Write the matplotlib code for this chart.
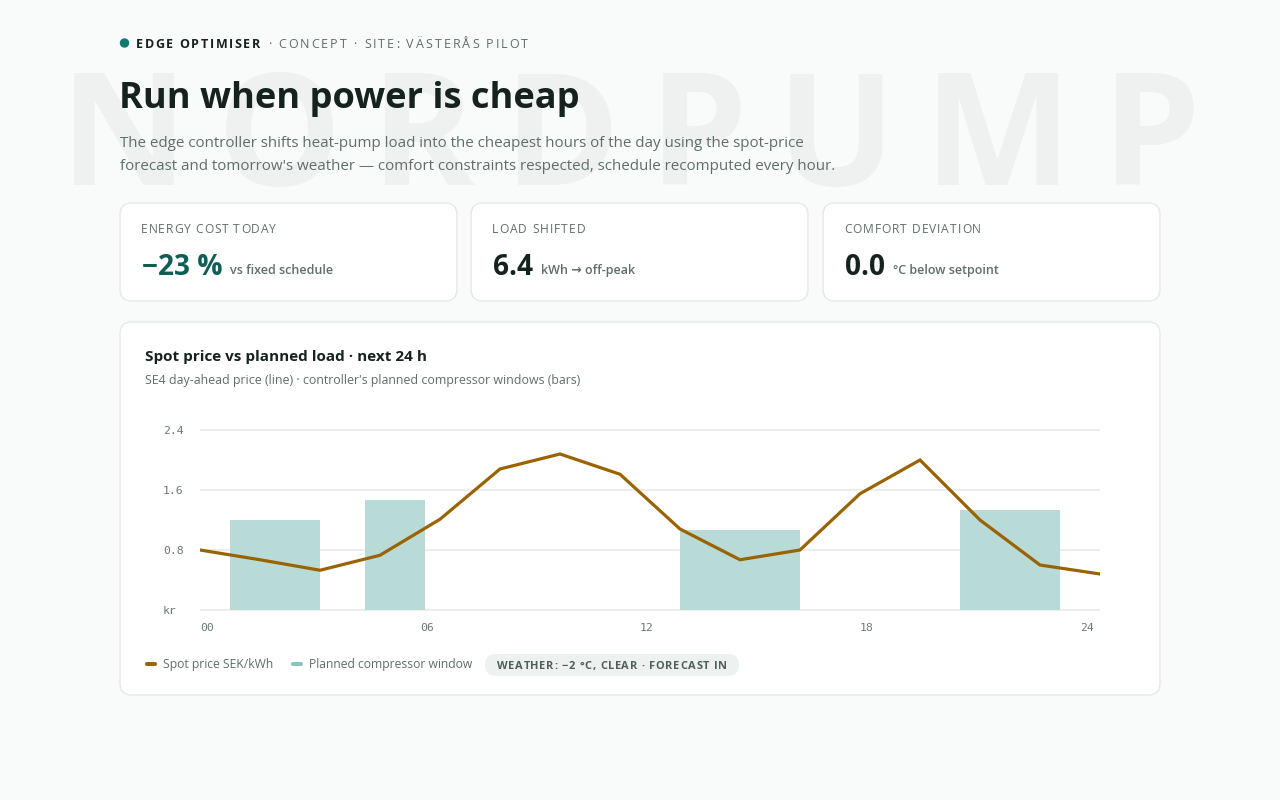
import matplotlib
matplotlib.use("Agg")
import matplotlib.pyplot as plt
from matplotlib.patches import FancyBboxPatch
from matplotlib.font_manager import FontProperties

# ---- data ----
hours = [0, 1.6, 3.2, 4.8, 6.4, 8.0, 9.6, 11.2, 12.8, 14.4, 16.0, 17.6, 19.2, 20.8, 22.4, 24.0]
price = [0.80, 0.67, 0.53, 0.73, 1.21, 1.88, 2.08, 1.81, 1.08, 0.67, 0.80, 1.55, 2.00, 1.20, 0.60, 0.48]

win_start = [0.8, 4.4, 12.8, 20.27]
win_len = [2.4, 1.6, 3.2, 2.67]
win_load = [1.20, 1.47, 1.07, 1.33]

xtick_hours = [0, 6, 12, 18, 24]
xtick_labels = ["00", "06", "12", "18", "24"]
ytick_vals = [0, 0.8, 1.6, 2.4]
ytick_labels = ["kr", "0.8", "1.6", "2.4"]

card_labels = ["ENERGY COST TODAY", "LOAD SHIFTED", "COMFORT DEVIATION"]
card_values = ["\u221223 %", "6.4", "0.0"]
card_units = ["vs fixed schedule", "kWh \u2192 off-peak", "\u00b0C below setpoint"]

# ---- style ----
BG = "#f9fbfa"
DARK = "#16221e"
GREY = "#5f6e69"
TEAL = "#117a6e"
TEAL_DARK = "#0f5e55"
BROWN = "#9a6300"
BAR = "#b9dbd8"
GRID = "#eceeed"
TICK = "#6b7975"
SANS = ["Open Sans", "DejaVu Sans"]
MONO = ["DejaVu Sans Mono"]

fig = plt.figure(figsize=(12.8, 8), dpi=100, facecolor=BG)
renderer = fig.canvas.get_renderer()
bg = fig.add_axes([0, 0, 1, 1])
bg.set_xlim(0, 1280)
bg.set_ylim(800, 0)
bg.axis("off")
bg.set_facecolor(BG)

PT = 72 / 100  # px -> pt


def text_w(s, size, weight="normal", family=SANS):
    prop = FontProperties(family=family, size=size, weight=weight)
    w1 = renderer.get_text_width_height_descent("|" + s + "|", prop, ismath=False)[0]
    w0 = renderer.get_text_width_height_descent("||", prop, ismath=False)[0]
    return w1 - w0


def fit(s, target, weight="normal", family=SANS):
    return 10 * target / text_w(s, 10, weight, family)


def spaced(x, y, s, target, size, weight="normal", color=GREY, family=SANS, z=2):
    track = (target - text_w(s, size, weight, family)) / (len(s) - 1)
    for i, ch in enumerate(s):
        if ch == " ":
            continue
        xi = x + text_w(s[:i], size, weight, family) + i * track
        bg.text(xi, y, ch, fontsize=size, fontweight=weight, color=color,
                family=family, va="baseline", ha="left", zorder=z)


def card(x0, y0, x1, y1, r=12):
    bg.add_patch(FancyBboxPatch((x0, y0), x1 - x0, y1 - y0,
                                boxstyle=f"round,pad=0,rounding_size={r}",
                                fc="white", ec="#e4e9e7", lw=1.0, zorder=3))


# watermark
spaced(60, 185, "NORDPUMP", 1140, 113, weight="bold", color="#eff1f0", z=1)

# header
bg.add_patch(plt.Circle((124.5, 43), 4, color=TEAL, zorder=2))
spaced(136, 47.5, "EDGE OPTIMISER", 124, 12.5 * PT, weight="bold", color=DARK)
spaced(268, 47.5, "\u00b7 CONCEPT \u00b7 SITE: V\u00c4STER\u00c5S PILOT", 260, 12.5 * PT, color=GREY)

title = "Run when power is cheap"
bg.text(119, 108, title, fontsize=fit(title, 461, "bold"), fontweight="bold",
        color=DARK, family=SANS, va="baseline", zorder=2)
sub1 = "The edge controller shifts heat-pump load into the cheapest hours of the day using the spot-price"
sub2 = "forecast and tomorrow's weather \u2014 comfort constraints respected, schedule recomputed every hour."
s_sub = (fit(sub1, 691) + fit(sub2, 712)) / 2
bg.text(120, 147, sub1, fontsize=s_sub, color=GREY, family=SANS, va="baseline", zorder=2)
bg.text(120, 170, sub2, fontsize=s_sub, color=GREY, family=SANS, va="baseline", zorder=2)

# KPI cards
card_x = [(120, 457), (471, 808), (823, 1160)]
label_w = [135, 93, 137]
unit_gap = 8
vsize = 28 * PT
for i, (x0, x1) in enumerate(card_x):
    card(x0, 203, x1, 301)
    spaced(x0 + 21, 233, card_labels[i], label_w[i], 12 * PT, color=GREY, z=4)
    bg.text(x0 + 22, 275, card_values[i], fontsize=vsize, fontweight="bold",
            color=TEAL_DARK if i == 0 else DARK, family=SANS, va="baseline", zorder=4)
    vw = text_w(card_values[i], vsize, "bold")
    bg.text(x0 + 22 + vw + unit_gap, 274, card_units[i], fontsize=12.5 * PT, fontweight="semibold",
            color=GREY, family=SANS, va="baseline", zorder=4)

# chart card
card(120, 322, 1160, 695)
ctitle = "Spot price vs planned load \u00b7 next 24 h"
bg.text(145, 361, ctitle, fontsize=fit(ctitle, 283, "bold"), fontweight="bold",
        color=DARK, family=SANS, va="baseline", zorder=4)
csub = "SE4 day-ahead price (line) \u00b7 controller's planned compressor windows (bars)"
bg.text(145, 384, csub, fontsize=fit(csub, 432), color=GREY, family=SANS,
        va="baseline", zorder=4)

# chart axes: x 0..24 -> 200..1100 px, y 0..2.4 -> 610..430 px
y_lo, y_hi = -0.04, 2.44
ppu = 75.0
top_px = 430 - (y_hi - 2.4) * ppu
bot_px = 610 + (0 - y_lo) * ppu
ax = fig.add_axes([200 / 1280, (800 - bot_px) / 800, 900 / 1280, (bot_px - top_px) / 800])
ax.set_zorder(5)
ax.patch.set_alpha(0)
ax.set_xlim(0, 24)
ax.set_ylim(y_lo, y_hi)
for sp in ax.spines.values():
    sp.set_visible(False)
for v in ytick_vals:
    ax.axhline(v, color=GRID, lw=1.4, zorder=0)
ax.bar(win_start, win_load, width=win_len, align="edge", color=BAR, zorder=1)
ax.plot(hours, price, color=BROWN, lw=2.3, solid_joinstyle="miter", zorder=2)

# the reference's hour labels sit on an 880 px scale inside the 900 px plot
tick_pos = [h * 880 / 900 for h in xtick_hours]
ax.set_xticks(tick_pos)
ax.set_xticklabels(xtick_labels, family=MONO, fontsize=11.5 * PT, color=TICK, ha="left")
ax.set_yticks(ytick_vals)
ax.set_yticklabels(ytick_labels, family=MONO, fontsize=11.5 * PT, color=TICK, ha="left")
ax.tick_params(length=0)
ax.tick_params(axis="x", pad=7)
ax.tick_params(axis="y", pad=37 * PT)

# legend
bg.add_patch(FancyBboxPatch((145, 662), 12, 4, boxstyle="round,pad=0,rounding_size=2",
                            fc=BROWN, ec="none", zorder=4))
l1 = "Spot price SEK/kWh"
lsize = fit(l1, 110)
bg.text(163, 668, l1, fontsize=lsize, color=GREY, family=SANS, va="baseline", zorder=4)
bg.add_patch(FancyBboxPatch((291, 662), 12, 4, boxstyle="round,pad=0,rounding_size=2",
                            fc="#86c4bd", ec="none", zorder=4))
bg.text(309, 668, "Planned compressor window", fontsize=lsize, color=GREY, family=SANS,
        va="baseline", zorder=4)
bg.add_patch(FancyBboxPatch((485, 654), 254, 22, boxstyle="round,pad=0,rounding_size=11",
                            fc="#edf1ef", ec="none", zorder=4))
spaced(497, 669, "WEATHER: \u22122 \u00b0C, CLEAR \u00b7 FORECAST IN", 230, 11 * PT,
       weight="bold", color="#4f5e58", z=5)

fig.savefig("out.png", dpi=100, facecolor=BG)
